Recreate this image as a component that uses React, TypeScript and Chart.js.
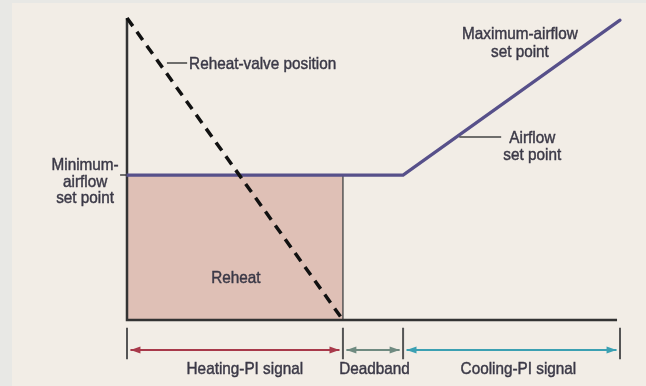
import React, { useEffect, useRef } from "react";
import { Chart, registerables } from "chart.js";

Chart.register(...registerables);

// Signal axis (0-100 % of control range) and airflow/valve output (0-100 %)
const HEAT_END = 43.8;
const DEAD_END = 56;
const SIGNAL_MAX = 100;
const MIN_AIRFLOW = 48;
const MAX_AIRFLOW = 99.3;
const VALVE_MAX = 100;

const airflowX = [0, DEAD_END, SIGNAL_MAX];
const airflowY = [MIN_AIRFLOW, MIN_AIRFLOW, MAX_AIRFLOW];
const valveX = [0, HEAT_END];
const valveY = [VALVE_MAX, 0];
const reheatX = [0, HEAT_END];
const reheatY = [MIN_AIRFLOW, MIN_AIRFLOW];

const bandEdges = [0, HEAT_END, DEAD_END, SIGNAL_MAX];
const bandLabels = ["Heating-PI signal", "Deadband", "Cooling-PI signal"];
const bandLabelX = [23.9, 50.2, 79.4];
const bandColors = ["#a8394a", "#6f8a80", "#3ba0b2"];

const FONT = '"Liberation Sans", Arial, sans-serif';
const TEXT = "#3b3947";
const SQUEEZE = 0.9;

type Note = { lines: string[]; x: number; y: number; align: CanvasTextAlign; step: number };
const notes: Note[] = [
  { lines: ["Reheat-valve position"], x: 12.6, y: 85.1, align: "left", step: 0 },
  { lines: ["Maximum-airflow", "set point"], x: 79.7, y: 95.0, align: "center", step: 5.9 },
  { lines: ["Airflow", "set point"], x: 82.2, y: 60.6, align: "center", step: 5.6 },
  { lines: ["Minimum-", "airflow", "set point"], x: -8.5, y: 51.7, align: "center", step: 5.5 },
  { lines: ["Reheat"], x: 22.1, y: 14.2, align: "center", step: 0 },
];

const BAND_Y = -9.9;
const BAND_TICK_TOP = -2.6;
const BAND_TICK_BOT = -13.0;
const BAND_LABEL_Y = -15.9;

export default function App() {
  const ref = useRef<HTMLCanvasElement | null>(null);

  useEffect(() => {
    document.body.style.margin = "0";
    const canvas = ref.current;
    if (!canvas) return;

    const pts = (xs: number[], ys: number[]) => xs.map((x, i) => ({ x, y: ys[i] }));

    const tickData: any[] = [];
    bandEdges.forEach((e) => {
      tickData.push({ x: e, y: BAND_TICK_TOP }, { x: e, y: BAND_TICK_BOT }, { x: e, y: null });
    });

    const arrowSets = bandLabels.map((_, i) => ({
      label: "arrow" + i,
      data: [
        { x: bandEdges[i] + 0.7, y: BAND_Y },
        { x: bandEdges[i + 1] - 0.7, y: BAND_Y },
      ],
      borderColor: bandColors[i],
      borderWidth: 2,
      pointRadius: 0,
      order: 1,
      clip: false as any,
    }));

    const drawText = (ctx: CanvasRenderingContext2D, t: string, x: number, y: number, align: CanvasTextAlign) => {
      ctx.save();
      ctx.translate(x, y + 1.5);
      ctx.scale(SQUEEZE, 1);
      ctx.textAlign = align;
      ctx.fillText(t, 0, 0);
      ctx.lineWidth = 0.45;
      ctx.strokeText(t, 0, 0);
      ctx.restore();
    };

    const decor = {
      id: "decor",
      afterDatasetsDraw(chart: any) {
        const ctx = chart.ctx as CanvasRenderingContext2D;
        const xs = chart.scales.x;
        const ys = chart.scales.y;
        const px = (v: number) => xs.getPixelForValue(v);
        const py = (v: number) => ys.getPixelForValue(v);
        ctx.save();
        // arrow heads
        arrowSets.forEach((a, i) => {
          const y = py(BAND_Y);
          const x0 = px(a.data[0].x);
          const x1 = px(a.data[1].x);
          ctx.fillStyle = bandColors[i];
          ctx.beginPath();
          ctx.moveTo(x0, y);
          ctx.lineTo(x0 + 10, y - 3.5);
          ctx.lineTo(x0 + 10, y + 3.5);
          ctx.closePath();
          ctx.fill();
          ctx.beginPath();
          ctx.moveTo(x1, y);
          ctx.lineTo(x1 - 10, y - 3.5);
          ctx.lineTo(x1 - 10, y + 3.5);
          ctx.closePath();
          ctx.fill();
        });
        // leader lines
        ctx.strokeStyle = "#444";
        ctx.lineWidth = 1.5;
        ctx.beginPath();
        ctx.moveTo(px(8.1), py(85.1));
        ctx.lineTo(px(12.2), py(85.1));
        ctx.moveTo(px(67.4), py(60.6));
        ctx.lineTo(px(75.9), py(60.6));
        ctx.moveTo(px(-1.4), py(MIN_AIRFLOW));
        ctx.lineTo(px(0), py(MIN_AIRFLOW));
        ctx.stroke();
        // texts
        ctx.fillStyle = TEXT;
        ctx.strokeStyle = TEXT;
        ctx.font = `17px ${FONT}`;
        ctx.textBaseline = "middle";
        notes.forEach((n) => {
          n.lines.forEach((t, k) => drawText(ctx, t, px(n.x), py(n.y - k * n.step), n.align));
        });
        bandLabels.forEach((t, i) => drawText(ctx, t, px(bandLabelX[i]), py(BAND_LABEL_Y), "center"));
        ctx.restore();
      },
    };

    const chart = new Chart(canvas, {
      type: "line",
      data: {
        datasets: [
          {
            label: "Reheat",
            data: pts(reheatX, reheatY),
            fill: "origin",
            backgroundColor: "#dfc0b6",
            borderWidth: 0,
            pointRadius: 0,
            order: 10,
          },
          {
            label: "divider",
            data: [
              { x: HEAT_END, y: 0 },
              { x: HEAT_END, y: MIN_AIRFLOW },
            ],
            borderColor: "#555",
            borderWidth: 1.5,
            pointRadius: 0,
            order: 5,
          },
          {
            label: "axes",
            data: [
              { x: 0, y: VALVE_MAX },
              { x: 0, y: 0 },
              { x: 99.4, y: 0 },
            ],
            borderColor: "#333",
            borderWidth: 2.5,
            pointRadius: 0,
            order: 4,
            clip: false as any,
          },
          {
            label: "Airflow set point",
            data: pts(airflowX, airflowY),
            borderColor: "#57508a",
            borderWidth: 3.2,
            pointRadius: 0,
            borderCapStyle: "round",
            order: 3,
            clip: false as any,
          },
          {
            label: "Reheat-valve position",
            data: pts(valveX, valveY),
            borderColor: "#111",
            borderWidth: 3.5,
            borderDash: [10, 7],
            pointRadius: 0,
            order: 2,
            clip: false as any,
          },
          {
            label: "band ticks",
            data: tickData,
            borderColor: "#555",
            borderWidth: 2,
            pointRadius: 0,
            spanGaps: false,
            order: 1,
            clip: false as any,
          },
          ...arrowSets,
        ] as any,
      },
      options: {
        animation: false,
        responsive: false,
        layout: { padding: { left: 127, right: 26, top: 18, bottom: 66 } },
        scales: {
          x: { type: "linear", min: 0, max: SIGNAL_MAX, display: false },
          y: { type: "linear", min: 0, max: VALVE_MAX, display: false },
        },
        plugins: { legend: { display: false }, tooltip: { enabled: false } },
        elements: { line: { tension: 0 } },
      },
      plugins: [decor],
    });
    return () => chart.destroy();
  }, []);

  return (
    <div style={{ position: "fixed", left: 0, top: 0, width: 646, height: 386, background: "#e8e8e5" }}>
      <div style={{ position: "absolute", left: 12, top: 3, right: 0, bottom: 0, background: "#f2ede6" }} />
      <canvas ref={ref} width={646} height={386} style={{ position: "absolute", left: 0, top: 0, width: 646, height: 386 }} />
    </div>
  );
}
